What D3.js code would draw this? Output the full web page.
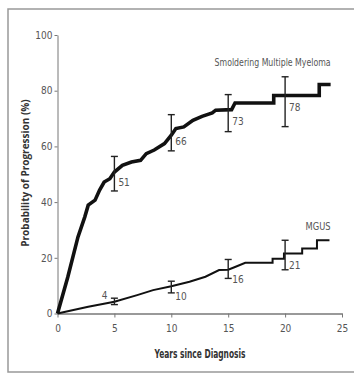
<!DOCTYPE html>
<html>
<head>
    <script src="https://d3js.org/d3.v7.min.js"></script>
    <style>
        body { margin: 0; background: #fff; }
        .tick text { font-family: 'DejaVu Sans Condensed', 'Liberation Sans Narrow', sans-serif; font-stretch: condensed; font-size: 10px; fill: #555; }
        .tick line, .domain { stroke: #777; }
    </style>
</head>
<body>
    <script>
        // Curve vertices: [years, percent]
        const smmCurve = [[0,0],[0.9,13],[1.8,27.5],[2.4,34.7],[2.7,38.9],[3.3,40.7],[3.7,44.3],[4.1,47.2],
            [4.6,48.4],[5,50.8],[5.7,53.2],[6.5,54.4],[7.3,55],[7.8,57.4],[8.5,58.7],[9.4,61],[10,64],
            [10.4,66.4],[11.1,67],[11.9,69.4],[12.7,70.8],[13.6,72],[13.9,73],[15.3,73.2],[15.6,75.6],
            [19,75.6],[19,78.3],[23,78.3],[23,82.2],[24,82.2]];
        const mgusCurve = [[0,0],[2.7,2.4],[5,4.2],[7,6.6],[8.4,8.4],[10,9.8],[11.6,11.4],[13,13.2],
            [14.2,15.6],[15,15.7],[15.6,16.7],[16.5,18.2],[18.9,18.2],[18.9,19.7],[19.9,19.7],[19.9,21.5],
            [21.5,21.5],[21.5,23.3],[22.8,23.3],[22.8,26.3],[23.9,26.3]];

        // Error bars: [year, label, low, high]
        const smmBars = [[5,51,44,56.4],[10,66,58.4,71.4],[15,73,65.3,78.6],[20,78,67.1,85]];
        const mgusBars = [[5,4,3.2,5.5],[10,10,7.4,11.6],[15,16,12.6,19.4],[20,21,15.7,26.3]];

        const xTicks = [0, 5, 10, 15, 20, 25];
        const yTicks = [0, 20, 40, 60, 80, 100];

        const svg = d3.select('body')
            .append('svg')
            .attr('width', 354)
            .attr('height', 375);

        // frame
        svg.append('rect')
            .attr('x', 8).attr('y', 9)
            .attr('width', 360).attr('height', 363)
            .attr('fill', 'none')
            .attr('stroke', '#999')
            .attr('stroke-width', 1.5);

        const xScale = d3.scaleLinear().domain([0, 25]).range([57.5, 342]);
        const yScale = d3.scaleLinear().domain([0, 100]).range([313.5, 35]);

        svg.append('g')
            .attr('transform', 'translate(0,313.5)')
            .call(d3.axisBottom(xScale).tickValues(xTicks).tickSize(4).tickSizeOuter(0).tickPadding(7))
            .call(g => g.select('.domain').attr('stroke-width', 1.5));

        svg.append('g')
            .attr('transform', 'translate(57.5,0)')
            .call(d3.axisLeft(yScale).tickValues(yTicks).tickSize(3).tickSizeOuter(0).tickPadding(2));

        const line = d3.line()
            .x(d => xScale(d[0]))
            .y(d => yScale(d[1]));

        svg.append('path')
            .datum(smmCurve)
            .attr('fill', 'none')
            .attr('stroke', '#111')
            .attr('stroke-width', 3.6)
            .attr('d', line);

        svg.append('path')
            .datum(mgusCurve)
            .attr('fill', 'none')
            .attr('stroke', '#111')
            .attr('stroke-width', 2)
            .attr('d', line);

        function drawBars(bars, cls) {
            const g = svg.append('g').attr('class', cls)
                .attr('stroke', '#222').attr('stroke-width', 1.4);
            g.selectAll('line.v').data(bars).join('line').attr('class', 'v')
                .attr('x1', d => xScale(d[0])).attr('x2', d => xScale(d[0]))
                .attr('y1', d => yScale(d[2])).attr('y2', d => yScale(d[3]));
            g.selectAll('line.lo').data(bars).join('line').attr('class', 'lo')
                .attr('x1', d => xScale(d[0]) - 3.5).attr('x2', d => xScale(d[0]) + 3.5)
                .attr('y1', d => yScale(d[2])).attr('y2', d => yScale(d[2]));
            g.selectAll('line.hi').data(bars).join('line').attr('class', 'hi')
                .attr('x1', d => xScale(d[0]) - 3.5).attr('x2', d => xScale(d[0]) + 3.5)
                .attr('y1', d => yScale(d[3])).attr('y2', d => yScale(d[3]));
        }
        drawBars(smmBars, 'smm-bars');
        drawBars(mgusBars, 'mgus-bars');

        const labelFont = "'DejaVu Sans Condensed', 'Liberation Sans Narrow', sans-serif";

        svg.selectAll('text.smm-val').data(smmBars).join('text')
            .attr('class', 'smm-val')
            .attr('x', d => xScale(d[0]) + 4)
            .attr('y', d => yScale(d[1]) + 15)
            .attr('font-family', labelFont).attr('font-size', 10).attr('fill', '#555')
            .text(d => d[1]);

        svg.selectAll('text.mgus-val').data(mgusBars).join('text')
            .attr('class', 'mgus-val')
            .attr('x', (d, i) => i === 0 ? xScale(d[0]) - 7 : xScale(d[0]) + 4)
            .attr('y', (d, i) => i === 0 ? yScale(d[1]) - 3 : yScale(d[1]) + 14)
            .attr('text-anchor', (d, i) => i === 0 ? 'end' : 'start')
            .attr('font-family', labelFont).attr('font-size', 10).attr('fill', '#555')
            .text(d => d[1]);

        // series names
        svg.append('text')
            .attr('x', xScale(24) - 116).attr('y', yScale(89))
            .attr('font-family', labelFont).attr('font-size', 10).attr('fill', '#555')
            .attr('textLength', 116).attr('lengthAdjust', 'spacingAndGlyphs')
            .text('Smoldering Multiple Myeloma');

        svg.append('text')
            .attr('x', xScale(24) - 25).attr('y', yScale(30))
            .attr('font-family', labelFont).attr('font-size', 10.5).attr('fill', '#555')
            .attr('textLength', 25).attr('lengthAdjust', 'spacingAndGlyphs')
            .text('MGUS');

        // axis titles
        svg.append('text')
            .attr('x', 200 - 45.5)
            .attr('y', 358)
            .attr('font-family', labelFont).attr('font-weight', 'bold')
            .attr('font-size', 12).attr('fill', '#333')
            .attr('textLength', 91).attr('lengthAdjust', 'spacingAndGlyphs')
            .text('Years since Diagnosis');

        svg.append('text')
            .attr('transform', 'translate(29,173) rotate(-90)')
            .attr('text-anchor', 'middle')
            .attr('font-family', "'Open Sans', sans-serif").attr('font-weight', 'bold')
            .attr('font-size', 10).attr('fill', '#333')
            .text('Probability of Progression (%)');
    </script>
</body>
</html>
